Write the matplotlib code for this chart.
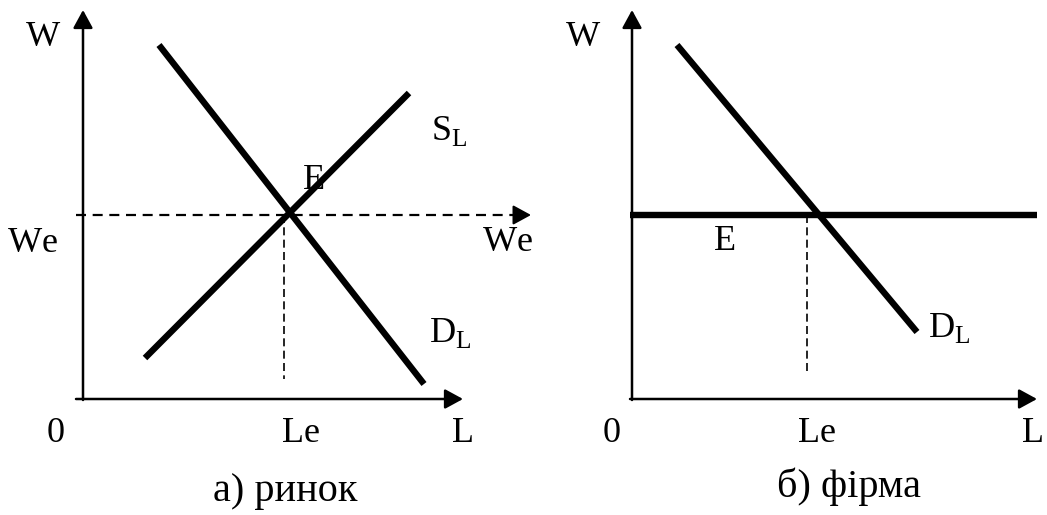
import matplotlib.pyplot as plt

plt.rcParams['font.family'] = ['Liberation Serif', 'DejaVu Serif']
plt.rcParams['mathtext.fontset'] = 'custom'
plt.rcParams['mathtext.rm'] = 'Liberation Serif'

W_PX, H_PX = 1047, 515
UNIT = 10  # pixels per data unit

# --- a) market: labour demand and supply ---
market_demand_l = [7.6, 34.1]
market_demand_w = [35.4, 1.5]
market_supply_l = [6.2, 32.6]
market_supply_w = [4.1, 30.6]
market_we = 18.4
market_le = 20.1
market_l_max = 38.0
market_w_max = 38.9
market_we_line_end = 44.8

# --- b) firm: flat wage and labour demand ---
firm_demand_l = [4.5, 28.5]
firm_demand_w = [35.4, 6.7]
firm_we = 18.4
firm_le = 17.5
firm_l_max = 40.5
firm_w_max = 38.9

fig = plt.figure(figsize=(W_PX / 100, H_PX / 100), dpi=100)


def make_panel(ox, oy, left, right):
    ax = fig.add_axes([left / W_PX, 0, (right - left) / W_PX, 1])
    ax.set_xlim((left - ox) / UNIT, (right - ox) / UNIT)
    ax.set_ylim(-(H_PX - oy) / UNIT, oy / UNIT)
    ax.axis('off')
    return ax


def arrow(ax, start, end, lw=1.8):
    ax.annotate('', xy=end, xytext=start,
                arrowprops=dict(arrowstyle='-|>,head_length=0.55,head_width=0.3',
                                mutation_scale=20, lw=lw, color='black',
                                shrinkA=0, shrinkB=0))


def head(ax, tip):
    # short solid piece only to carry an arrow head on a dashed line
    arrow(ax, (tip[0] - 1.5, tip[1]), tip, lw=1.5)


def we_label(ax, x, y):
    # "W" and "e" drawn apart so the font's kerning doesn't pull them together
    ax.text(x, y, 'W', ha='left', va='baseline', **lab)
    ax.text(x + 3.4, y, 'e', ha='left', va='baseline', **lab)


thick = dict(color='black', lw=4.6, solid_capstyle='butt')
dash_h = dict(color='black', lw=1.6, linestyle=(0, (4.5, 3)))
dash_v = dict(color='black', lw=1.2, linestyle=(0, (4.8, 2.6)))
lab = dict(fontsize=26, color='black')
cap = dict(fontsize=29, color='black')

# ---------------- a) ринок ----------------
ax1 = make_panel(83, 399, 0, 540)
arrow(ax1, (0, -0.1), (0, market_w_max))
arrow(ax1, (-0.7, 0), (market_l_max, 0))
ax1.plot([-0.7, market_we_line_end - 1.2], [market_we, market_we], **dash_h)
head(ax1, (market_we_line_end, market_we))
ax1.plot([market_le, market_le], [market_we, 2.0], **dash_v)
ax1.plot(market_demand_l, market_demand_w, **thick)
ax1.plot(market_supply_l, market_supply_w, **thick)

ax1.text(-4.0, 35.3, 'W', ha='center', va='baseline', **lab)
we_label(ax1, -7.5, 14.7)
we_label(ax1, 40.0, 14.8)
ax1.text(34.8, 25.9, r'S$_\mathrm{L}$', ha='left', va='baseline', **lab)
ax1.text(22.0, 21.0, 'E', ha='left', va='baseline', **lab)
ax1.text(34.6, 5.7, r'D$_\mathrm{L}$', ha='left', va='baseline', **lab)
ax1.text(-2.7, -4.3, '0', ha='center', va='baseline', **lab)
ax1.text(21.8, -4.3, 'Le', ha='center', va='baseline', **lab)
ax1.text(38.0, -4.3, 'L', ha='center', va='baseline', **lab)
ax1.text(20.2, -10.2, 'а) ринок', ha='center', va='baseline', **cap)

# ---------------- б) фірма ----------------
ax2 = make_panel(632, 399, 540, 1047)
arrow(ax2, (0, -0.1), (0, firm_w_max))
arrow(ax2, (-0.2, 0), (firm_l_max, 0))
ax2.plot([-0.2, firm_l_max], [firm_we, firm_we], **thick)
ax2.plot([firm_le, firm_le], [firm_we, 2.4], **dash_v)
ax2.plot(firm_demand_l, firm_demand_w, **thick)

ax2.text(-4.9, 35.3, 'W', ha='center', va='baseline', **lab)
ax2.text(8.2, 14.9, 'E', ha='left', va='baseline', **lab)
ax2.text(29.6, 6.2, r'D$_\mathrm{L}$', ha='left', va='baseline', **lab)
ax2.text(-2.0, -4.3, '0', ha='center', va='baseline', **lab)
ax2.text(18.5, -4.3, 'Le', ha='center', va='baseline', **lab)
ax2.text(40.1, -4.3, 'L', ha='center', va='baseline', **lab)
ax2.text(21.7, -9.8, 'б) фірма', ha='center', va='baseline', **cap)

fig.savefig('out.png', dpi=100)
